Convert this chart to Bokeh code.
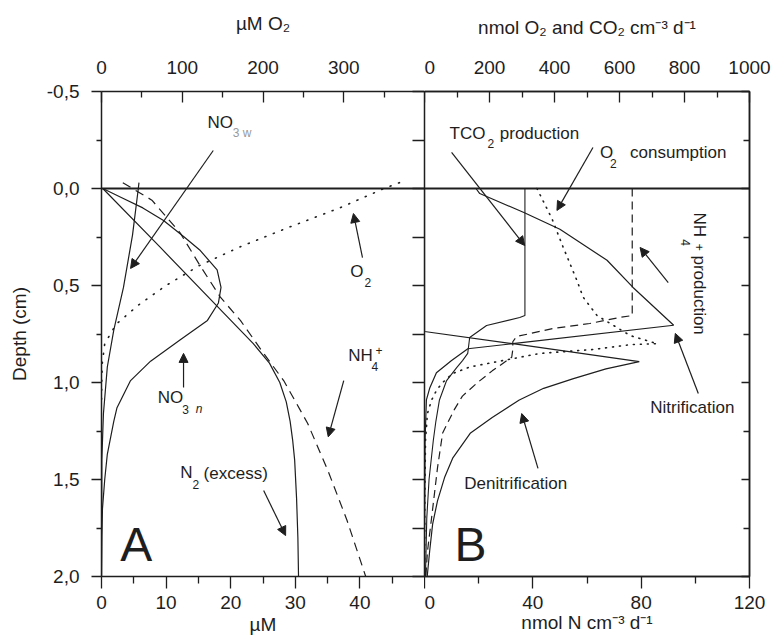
from bokeh.plotting import figure
from bokeh.models import Range1d, LinearAxis, FixedTicker, Span, Arrow, NormalHead
from bokeh.layouts import row
from bokeh.embed import file_html
from bokeh.resources import INLINE
from bokeh.core.properties import value

# ---------------- data ----------------
# axes ticks
depth_ticks = [-0.5, 0.0, 0.5, 1.0, 1.5, 2.0]
depth_tick_labels = ["-0,5", "0,0", "0,5", "1,0", "1,5", "2,0"]
depth_minor = [-0.25, 0.25, 0.75, 1.25, 1.75]
a_bottom_ticks = [0, 10, 20, 30, 40]
a_bottom_minor = [5, 15, 25, 35, 45]
a_top_ticks = [0, 100, 200, 300]
a_top_minor = [50, 150, 250, 350]
b_bottom_ticks = [0, 40, 80, 120]
b_bottom_minor = [20, 60, 100]
b_top_ticks = [0, 200, 400, 600, 800, 1000]
b_top_minor = [100, 300, 500, 700, 900]

# Panel A: concentrations (uM); O2 on top axis
o2_depth = [-0.03, 0.0, 0.1, 0.2, 0.3, 0.4, 0.5, 0.6, 0.7, 0.8, 0.9, 1.0, 1.1]
o2_uM = [369, 350, 295, 232, 172, 120, 80, 46, 18, 4, 1, 0.3, 0]

no3n_depth = [0.0, 0.05, 0.1, 0.165, 0.25, 0.32, 0.42, 0.51, 0.59, 0.68, 0.78,
              0.89, 0.99, 1.13, 1.2, 1.37, 1.5, 1.65, 1.8, 2.0]
no3n_uM = [0.2, 3.3, 6.4, 9.6, 12.8, 15.3, 17.9, 18.5, 18.1, 16.4, 12.2,
           7.6, 4.5, 2.4, 1.9, 0.9, 0.5, 0.15, 0.05, 0.0]

no3w_depth = [-0.03, 0.0, 0.24, 0.51, 0.73, 0.92, 1.16, 1.4, 2.0]
no3w_uM = [5.8, 5.7, 4.8, 3.4, 1.9, 0.9, 0.3, 0.05, 0.0]

n2_depth = [0.0, 0.3, 0.6, 0.8, 0.9, 1.0, 1.1, 1.2, 1.3, 1.4, 1.6, 1.8, 2.0]
n2_uM = [0.2, 9.0, 17.7, 23.5, 26.0, 27.6, 28.6, 29.2, 29.6, 29.9, 30.2, 30.4, 30.5]

nh4_depth = [-0.03, 0.06, 0.23, 0.4, 0.56, 0.68, 0.85, 0.99, 1.21, 1.45, 1.71, 2.0]
nh4_uM = [3.3, 7.8, 12.2, 15.3, 18.4, 21.5, 25.1, 28.2, 31.9, 35.0, 38.0, 40.9]

# Panel B: rates; TCO2 and O2 on top axis (nmol O2/CO2), N rates on bottom axis
tco2_depth = [0.0, 0.655, 0.665, 0.706, 0.768, 0.85, 0.887, 0.923, 0.99, 1.09,
              1.2, 1.3, 1.5, 1.7, 2.0]
tco2_rate = [309, 309, 293, 191, 139, 133, 117, 99, 68, 46, 35, 27, 14, 7, 3]

o2c_depth = [0.0, 0.155, 0.30, 0.474, 0.56, 0.655, 0.758, 0.80, 0.805, 0.83, 0.85,
             0.887, 0.92, 0.954, 1.0, 1.04, 1.09, 1.16, 1.3, 1.6, 2.0]
o2c_rate = [346, 392, 426, 469, 488, 531, 633, 716, 633, 519, 355,
            241, 139, 86, 56, 37, 22, 9, 3, 1, 0]

nh4p_depth = [0.0, 0.655, 0.665, 0.696, 0.722, 0.763, 0.79, 0.83, 0.87, 0.94,
              1.0, 1.07, 1.14, 1.26, 1.44, 1.57, 1.70, 1.87, 2.0]
nh4p_rate = [76.7, 76.7, 72.0, 61.0, 47.4, 34.0, 32.6, 32.6, 32.2, 25.0,
             19.6, 14.0, 11.0, 6.7, 4.8, 3.7, 2.6, 1.1, 0.5]

nit_depth = [0.0, 0.026, 0.124, 0.21, 0.37, 0.51, 0.705, 0.80, 0.826, 0.887,
             0.95, 1.03, 1.09, 1.3, 2.0]
nit_rate = [19.0, 20.4, 36.7, 50.0, 67.4, 77.0, 92.0, 32.6, 16.0, 10.0,
            4.4, 1.9, 0.7, 0.2, 0.0]

den_depth = [0.0, 0.737, 0.80, 0.892, 0.93, 0.98, 1.03, 1.09, 1.18, 1.26,
             1.39, 1.49, 1.61, 1.73, 1.87, 2.0]
den_rate = [0.0, 0.0, 32.6, 79.3, 67.0, 55.0, 44.0, 35.0, 25.0, 17.0,
            10.4, 7.4, 4.8, 3.0, 1.9, 1.0]

# ---------------- styling ----------------
FONT = "Liberation Sans"
INK = "#1e1e1e"
TICK_PX = "19px"
LABEL_PX = "19px"
NOTE_PX = "17px"
SUB_PX = "12px"


def style_axis(ax, ticks, minor, tin, tout, mtin, mtout, standoff, overrides=None):
    ax.ticker = FixedTicker(ticks=ticks, minor_ticks=minor)
    ax.major_tick_in = tin
    ax.major_tick_out = tout
    ax.minor_tick_in = mtin
    ax.minor_tick_out = mtout
    ax.major_tick_line_color = INK
    ax.minor_tick_line_color = INK
    ax.major_tick_line_width = 1.3
    ax.minor_tick_line_width = 1.3
    ax.axis_line_color = INK
    ax.axis_line_width = 1.5
    ax.major_label_text_font = FONT
    ax.major_label_text_font_size = TICK_PX
    ax.major_label_text_color = INK
    ax.major_label_standoff = standoff
    ax.axis_label_text_font = FONT
    ax.axis_label_text_font_size = LABEL_PX
    ax.axis_label_text_font_style = "normal"
    ax.axis_label_text_color = INK
    if overrides:
        ax.major_label_overrides = overrides


def blank_axis(ax, ticks, minor, tin, mtin):
    ax.ticker = FixedTicker(ticks=ticks, minor_ticks=minor)
    ax.major_tick_in = tin
    ax.major_tick_out = 0
    ax.minor_tick_in = mtin
    ax.minor_tick_out = 0
    ax.major_tick_line_color = INK
    ax.minor_tick_line_color = INK
    ax.major_tick_line_width = 1.3
    ax.minor_tick_line_width = 1.3
    ax.axis_line_color = INK
    ax.axis_line_width = 1.5
    ax.major_label_text_font_size = "0px"
    ax.major_label_standoff = 0
    ax.major_label_text_alpha = 0


def note(p, x, y, txt, size=NOTE_PX, align="left", angle=0.0, style="normal", color=INK):
    p.text(x=[x], y=[y], text=[txt], text_font=value(FONT), text_font_size=size,
           text_align=align, text_baseline="middle", angle=angle,
           text_font_style=style, text_color=color)


def arrow(p, xs, ys, xe, ye):
    p.add_layout(Arrow(end=NormalHead(size=9, fill_color=INK, line_color=INK, line_width=1),
                       x_start=xs, y_start=ys, x_end=xe, y_end=ye,
                       line_color=INK, line_width=1.2))


# ---------------- panel A ----------------
pA = figure(width=424, height=644, x_range=Range1d(0, 50), y_range=Range1d(2.0, -0.5),
            output_backend="svg", toolbar_location=None,
            min_border_left=101, min_border_right=0, min_border_top=91, min_border_bottom=68)
pA.extra_x_ranges = {"o2": Range1d(0, 400)}
pA.xgrid.visible = False
pA.ygrid.visible = False
pA.outline_line_color = None
pA.background_fill_color = "white"
pA.border_fill_color = "white"

style_axis(pA.xaxis[0], a_bottom_ticks, a_bottom_minor, 0, 12, 0, 7, 7)
pA.xaxis[0].axis_label = "µM"
pA.xaxis[0].axis_label_standoff = 2
style_axis(pA.yaxis[0], depth_ticks, depth_minor, 0, 10, 0, 5, 12,
           dict(zip(depth_ticks, depth_tick_labels)))
pA.yaxis[0].axis_label = "Depth (cm)"
pA.yaxis[0].axis_label_standoff = 14

topA = LinearAxis(x_range_name="o2", axis_label="µM O₂")
style_axis(topA, a_top_ticks, a_top_minor, 11, 0, 6, 0, 18)
topA.axis_label_standoff = 24
pA.add_layout(topA, "above")

rightA = LinearAxis()
blank_axis(rightA, depth_ticks, depth_minor, 12, 12)
pA.add_layout(rightA, "right")

pA.add_layout(Span(location=0, dimension="width", line_color=INK, line_width=2.2))

pA.line(o2_uM, o2_depth, x_range_name="o2", line_color=INK, line_width=1.6,
        line_dash="1 8", line_cap="round")
pA.line(no3n_uM, no3n_depth, line_color=INK, line_width=1.2)
pA.line(no3w_uM, no3w_depth, line_color=INK, line_width=1.2)
pA.line(n2_uM, n2_depth, line_color=INK, line_width=1.2)
pA.line(nh4_uM, nh4_depth, line_color=INK, line_width=1.2, line_dash="9 6")

# labels & arrows, panel A
note(pA, 16.4, -0.34, "NO")
note(pA, 20.3, -0.285, "3 w", size=SUB_PX, color="#999999")
arrow(pA, 17.3, -0.196, 4.5, 0.412)

note(pA, 8.7, 1.077, "NO")
note(pA, 12.5, 1.139, "3", size=SUB_PX)
note(pA, 14.6, 1.139, "n", size=SUB_PX, style="italic")
arrow(pA, 12.7, 1.026, 12.7, 0.85)

note(pA, 38.5, 0.428, "O")
note(pA, 40.7, 0.485, "2", size=SUB_PX)
arrow(pA, 40.4, 0.356, 39.0, 0.129)

note(pA, 38.2, 0.861, "NH")
note(pA, 41.8, 0.918, "4", size=SUB_PX)
note(pA, 42.4, 0.835, "+", size=SUB_PX)
arrow(pA, 37.5, 0.99, 35.1, 1.28)

note(pA, 12.2, 1.464, "N")
note(pA, 14.1, 1.526, "2", size=SUB_PX)
note(pA, 15.8, 1.469, "(excess)")
arrow(pA, 25.1, 1.557, 28.5, 1.789)

note(pA, 2.9, 1.835, "A", size="48px")

# ---------------- panel B ----------------
pB = figure(width=350, height=644, x_range=Range1d(0, 120), y_range=Range1d(2.0, -0.5),
            output_backend="svg", toolbar_location=None, y_axis_location=None,
            min_border_left=0, min_border_right=25, min_border_top=91, min_border_bottom=68)
pB.extra_x_ranges = {"top": Range1d(0, 1000)}
pB.xgrid.visible = False
pB.ygrid.visible = False
pB.outline_line_color = INK
pB.outline_line_width = 1.5
pB.background_fill_color = "white"
pB.border_fill_color = "white"

style_axis(pB.xaxis[0], b_bottom_ticks, b_bottom_minor, 0, 12, 0, 7, 7)
pB.xaxis[0].axis_label = "nmol N cm⁻³ d⁻¹"
pB.xaxis[0].axis_label_standoff = 0

topB = LinearAxis(x_range_name="top", axis_label="nmol O₂ and CO₂ cm⁻³ d⁻¹")
style_axis(topB, b_top_ticks, b_top_minor, 11, 0, 6, 0, 18)
topB.axis_label_standoff = 20
pB.add_layout(topB, "above")

rightB = LinearAxis()
blank_axis(rightB, depth_ticks, depth_minor, 8, 6)
pB.add_layout(rightB, "right")

pB.add_layout(Span(location=0, dimension="width", line_color=INK, line_width=2.2))

pB.line(tco2_rate, tco2_depth, x_range_name="top", line_color=INK, line_width=1.1)
pB.line(o2c_rate, o2c_depth, x_range_name="top", line_color=INK, line_width=1.6,
        line_dash="1 6", line_cap="round")
pB.line(nh4p_rate, nh4p_depth, line_color=INK, line_width=1.2, line_dash="8 5")
pB.line(nit_rate, nit_depth, line_color=INK, line_width=1.2)
pB.line(den_rate, den_depth, line_color=INK, line_width=1.2)

# labels & arrows, panel B
note(pB, 9.26, -0.284, "TCO")
note(pB, 23.3, -0.232, "2", size=SUB_PX)
note(pB, 27.8, -0.284, "production")
arrow(pB, 10.0, -0.186, 37.0, 0.294)

note(pB, 64.8, -0.186, "O")
note(pB, 68.5, -0.129, "2", size=SUB_PX)
note(pB, 75.9, -0.186, "consumption")
arrow(pB, 62.2, -0.211, 48.9, 0.113)

note(pB, 101.5, 0.124, "NH", angle=-1.5708)
note(pB, 96.3, 0.262, "4", size=SUB_PX, angle=-1.5708)
note(pB, 101.5, 0.285, "+", size=SUB_PX, angle=-1.5708)
note(pB, 101.5, 0.345, "production", angle=-1.5708)
arrow(pB, 90.0, 0.485, 79.6, 0.304)

note(pB, 98.9, 1.129, "Nitrification", align="center")
arrow(pB, 101.1, 1.057, 92.6, 0.747)

note(pB, 33.7, 1.52, "Denitrification", align="center")
arrow(pB, 41.9, 1.443, 35.9, 1.16)

note(pB, 11.1, 1.835, "B", size="48px")

layout = row(pA, pB)
open("out.html", "w").write(file_html(layout, INLINE))
